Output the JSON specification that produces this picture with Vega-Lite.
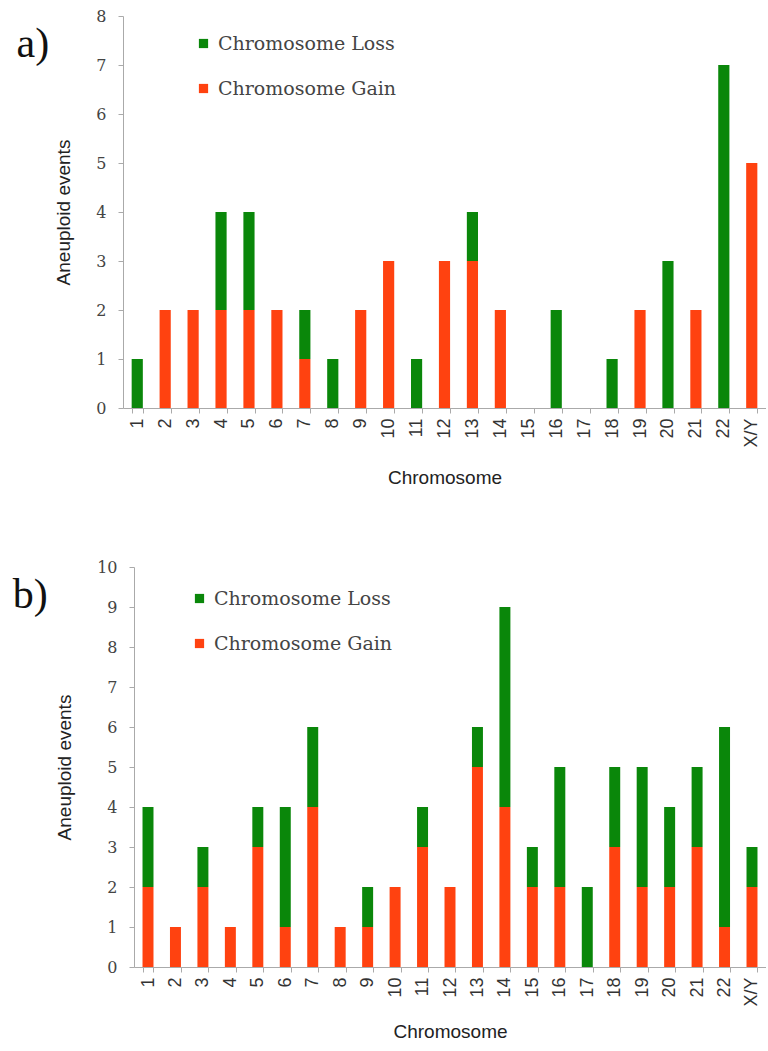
{
  "$schema": "https://vega.github.io/schema/vega-lite/v6.json",
  "padding": {"left": 12, "top": 8, "right": 0, "bottom": 5},
  "background": "white",
  "datasets": {
    "a": [
      {"chromosome": "1", "type": "Chromosome Loss", "events": 1},
      {"chromosome": "2", "type": "Chromosome Gain", "events": 2},
      {"chromosome": "3", "type": "Chromosome Gain", "events": 2},
      {"chromosome": "4", "type": "Chromosome Gain", "events": 2},
      {"chromosome": "4", "type": "Chromosome Loss", "events": 2},
      {"chromosome": "5", "type": "Chromosome Gain", "events": 2},
      {"chromosome": "5", "type": "Chromosome Loss", "events": 2},
      {"chromosome": "6", "type": "Chromosome Gain", "events": 2},
      {"chromosome": "7", "type": "Chromosome Gain", "events": 1},
      {"chromosome": "7", "type": "Chromosome Loss", "events": 1},
      {"chromosome": "8", "type": "Chromosome Loss", "events": 1},
      {"chromosome": "9", "type": "Chromosome Gain", "events": 2},
      {"chromosome": "10", "type": "Chromosome Gain", "events": 3},
      {"chromosome": "11", "type": "Chromosome Loss", "events": 1},
      {"chromosome": "12", "type": "Chromosome Gain", "events": 3},
      {"chromosome": "13", "type": "Chromosome Gain", "events": 3},
      {"chromosome": "13", "type": "Chromosome Loss", "events": 1},
      {"chromosome": "14", "type": "Chromosome Gain", "events": 2},
      {"chromosome": "15", "type": "Chromosome Gain", "events": 0},
      {"chromosome": "16", "type": "Chromosome Loss", "events": 2},
      {"chromosome": "17", "type": "Chromosome Gain", "events": 0},
      {"chromosome": "18", "type": "Chromosome Loss", "events": 1},
      {"chromosome": "19", "type": "Chromosome Gain", "events": 2},
      {"chromosome": "20", "type": "Chromosome Loss", "events": 3},
      {"chromosome": "21", "type": "Chromosome Gain", "events": 2},
      {"chromosome": "22", "type": "Chromosome Loss", "events": 7},
      {"chromosome": "X/Y", "type": "Chromosome Gain", "events": 5}
    ],
    "b": [
      {"chromosome": "1", "type": "Chromosome Gain", "events": 2},
      {"chromosome": "1", "type": "Chromosome Loss", "events": 2},
      {"chromosome": "2", "type": "Chromosome Gain", "events": 1},
      {"chromosome": "3", "type": "Chromosome Gain", "events": 2},
      {"chromosome": "3", "type": "Chromosome Loss", "events": 1},
      {"chromosome": "4", "type": "Chromosome Gain", "events": 1},
      {"chromosome": "5", "type": "Chromosome Gain", "events": 3},
      {"chromosome": "5", "type": "Chromosome Loss", "events": 1},
      {"chromosome": "6", "type": "Chromosome Gain", "events": 1},
      {"chromosome": "6", "type": "Chromosome Loss", "events": 3},
      {"chromosome": "7", "type": "Chromosome Gain", "events": 4},
      {"chromosome": "7", "type": "Chromosome Loss", "events": 2},
      {"chromosome": "8", "type": "Chromosome Gain", "events": 1},
      {"chromosome": "9", "type": "Chromosome Gain", "events": 1},
      {"chromosome": "9", "type": "Chromosome Loss", "events": 1},
      {"chromosome": "10", "type": "Chromosome Gain", "events": 2},
      {"chromosome": "11", "type": "Chromosome Gain", "events": 3},
      {"chromosome": "11", "type": "Chromosome Loss", "events": 1},
      {"chromosome": "12", "type": "Chromosome Gain", "events": 2},
      {"chromosome": "13", "type": "Chromosome Gain", "events": 5},
      {"chromosome": "13", "type": "Chromosome Loss", "events": 1},
      {"chromosome": "14", "type": "Chromosome Gain", "events": 4},
      {"chromosome": "14", "type": "Chromosome Loss", "events": 5},
      {"chromosome": "15", "type": "Chromosome Gain", "events": 2},
      {"chromosome": "15", "type": "Chromosome Loss", "events": 1},
      {"chromosome": "16", "type": "Chromosome Gain", "events": 2},
      {"chromosome": "16", "type": "Chromosome Loss", "events": 3},
      {"chromosome": "17", "type": "Chromosome Loss", "events": 2},
      {"chromosome": "18", "type": "Chromosome Gain", "events": 3},
      {"chromosome": "18", "type": "Chromosome Loss", "events": 2},
      {"chromosome": "19", "type": "Chromosome Gain", "events": 2},
      {"chromosome": "19", "type": "Chromosome Loss", "events": 3},
      {"chromosome": "20", "type": "Chromosome Gain", "events": 2},
      {"chromosome": "20", "type": "Chromosome Loss", "events": 2},
      {"chromosome": "21", "type": "Chromosome Gain", "events": 3},
      {"chromosome": "21", "type": "Chromosome Loss", "events": 2},
      {"chromosome": "22", "type": "Chromosome Gain", "events": 1},
      {"chromosome": "22", "type": "Chromosome Loss", "events": 5},
      {"chromosome": "X/Y", "type": "Chromosome Gain", "events": 2},
      {"chromosome": "X/Y", "type": "Chromosome Loss", "events": 1}
    ]
  },
  "vconcat": [
    {
      "data": {"name": "a"},
      "width": 643,
      "height": 392,
      "title": {"text": "a)", "orient": "left", "anchor": "end", "angle": 0, "frame": "group", "align": "right", "font": "Liberation Serif", "fontSize": 42, "fontWeight": "normal", "color": "#111", "baseline": "top", "offset": -27, "dy": 8},
      "mark": {"type": "bar"},
      "encoding": {
        "x": {"field": "chromosome", "type": "nominal", "sort": null,
          "scale": {"domain": ["1","2","3","4","5","6","7","8","9","10","11","12","13","14","15","16","17","18","19","20","21","22","X/Y"], "paddingInner": 0.6, "paddingOuter": 0.31},
          "axis": {"title": "Chromosome"}},
        "y": {"field": "events", "type": "quantitative", "stack": "zero",
          "scale": {"domain": [0, 8], "nice": false},
          "axis": {"title": "Aneuploid events", "values": [0,1,2,3,4,5,6,7,8]}},
        "color": {"field": "type", "type": "nominal",
          "scale": {"domain": ["Chromosome Loss", "Chromosome Gain"], "range": ["#0a870a", "#ff4210"]},
          "legend": {"title": null, "orient": "none", "legendX": 71, "legendY": 18}},
        "order": {"field": "type", "sort": "ascending"}
      }
    },
    {
      "data": {"name": "b"},
      "width": 643,
      "height": 400,
      "title": {"text": "b)", "orient": "left", "anchor": "end", "angle": 0, "frame": "group", "align": "right", "font": "Liberation Serif", "fontSize": 42, "fontWeight": "normal", "color": "#111", "baseline": "top", "offset": -27, "dy": 8},
      "mark": {"type": "bar"},
      "encoding": {
        "x": {"field": "chromosome", "type": "nominal", "sort": null,
          "scale": {"domain": ["1","2","3","4","5","6","7","8","9","10","11","12","13","14","15","16","17","18","19","20","21","22","X/Y"], "range": [11, 643], "paddingInner": 0.6, "paddingOuter": 0.31},
          "axis": {"title": "Chromosome", "titlePadding": 16}},
        "y": {"field": "events", "type": "quantitative", "stack": "zero",
          "scale": {"domain": [0, 10], "nice": false},
          "axis": {"title": "Aneuploid events", "offset": -11, "values": [0,1,2,3,4,5,6,7,8,9,10]}},
        "color": {"field": "type", "type": "nominal",
          "scale": {"domain": ["Chromosome Loss", "Chromosome Gain"], "range": ["#0a870a", "#ff4210"]},
          "legend": {"title": null, "orient": "none", "legendX": 67, "legendY": 22}},
        "order": {"field": "type", "sort": "ascending"}
      }
    }
  ],
  "spacing": 71,
  "bounds": "full",
  "resolve": {"scale": {"color": "independent", "x": "independent", "y": "independent"}},
  "config": {
    "view": {"stroke": null},
    "axis": {"grid": false, "domainColor": "#aaaaaa", "tickColor": "#aaaaaa", "tickSize": 5},
    "axisX": {"labelAngle": 270, "labelAlign": "right", "labelBaseline": "middle", "labelFont": "Liberation Sans", "labelFontSize": 18, "labelColor": "#333", "labelPadding": 5, "tickBand": "extent",
      "titleFont": "Liberation Sans", "titleFontSize": 19, "titleFontWeight": "normal", "titleColor": "#222", "titlePadding": 21},
    "axisY": {"labelFont": "DejaVu Serif", "labelFontSize": 16, "labelColor": "#444", "labelPadding": 12,
      "titleFont": "Liberation Sans", "titleFontSize": 19, "titleFontWeight": "normal", "titleColor": "#222", "titlePadding": 22},
    "legend": {"symbolType": "square", "symbolSize": 85, "symbolStrokeWidth": 0, "labelFont": "DejaVu Serif", "labelFontSize": 19, "labelColor": "#444", "labelLimit": 400, "rowPadding": 25, "labelOffset": 5}
  }
}
